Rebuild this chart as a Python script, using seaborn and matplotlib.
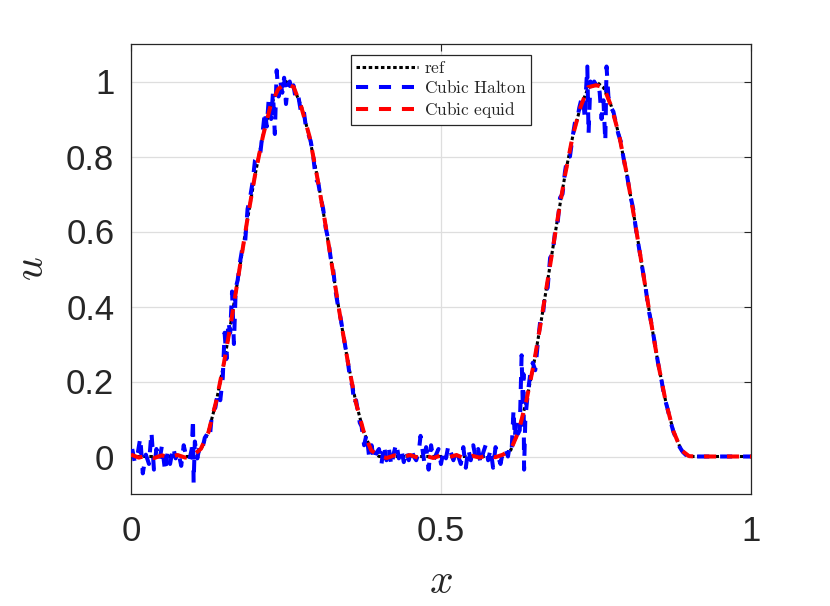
import numpy as np
import seaborn as sns
import matplotlib
matplotlib.use("Agg")
import matplotlib.pyplot as plt

# equidistant grid used by the reference and the "equid" solution
GRID_X = np.linspace(0, 1, 81)

REF_U = [0, 0, 0, 0, 0, 0, 0, 0, 0,
         0.017, 0.067, 0.146, 0.25, 0.371, 0.5, 0.629, 0.75, 0.854, 0.933, 0.983,
         1.0,
         0.983, 0.933, 0.854, 0.75, 0.629, 0.5, 0.371, 0.25, 0.146, 0.067, 0.017,
         0, 0, 0, 0, 0, 0, 0, 0, 0, 0, 0, 0, 0, 0, 0, 0, 0,
         0.017, 0.067, 0.146, 0.25, 0.371, 0.5, 0.629, 0.75, 0.854, 0.933, 0.983,
         1.0,
         0.983, 0.933, 0.854, 0.75, 0.629, 0.5, 0.371, 0.25, 0.146, 0.067, 0.017,
         0, 0, 0, 0, 0, 0, 0, 0, 0]

EQUID_U = [0.005, -0.003, 0.002, -0.004, 0.003, -0.002, 0.004, -0.003, 0.003,
           0.02, 0.065, 0.148, 0.25, 0.37, 0.50, 0.63, 0.75, 0.852, 0.935, 0.98,
           0.995,
           0.985, 0.93, 0.856, 0.748, 0.63, 0.5, 0.372, 0.25, 0.145, 0.068, 0.016,
           0.002, -0.004, 0.003, -0.002, 0.004, -0.003, 0.002, -0.004, 0.003,
           -0.002, 0.004, -0.005, 0.002, -0.003, 0.004, -0.002, 0.005,
           0.018, 0.066, 0.147, 0.25, 0.372, 0.5, 0.628, 0.75, 0.855, 0.932, 0.985,
           0.99,
           0.985, 0.932, 0.855, 0.75, 0.629, 0.5, 0.371, 0.25, 0.146, 0.067, 0.017,
           0.001, 0, 0, 0, 0, 0, 0, 0, 0]

# scattered (Halton) nodes, sorted by x
HALTON_X = [0.002, 0.006, 0.011, 0.015, 0.019, 0.024, 0.029, 0.033, 0.037, 0.041,
            0.046, 0.050, 0.055, 0.059, 0.063, 0.068, 0.072, 0.076, 0.081, 0.085,
            0.089, 0.094, 0.098, 0.100, 0.101, 0.103, 0.107, 0.111, 0.115,
            0.119, 0.123, 0.127, 0.131, 0.136, 0.140, 0.144, 0.148, 0.151, 0.154,
            0.157, 0.160, 0.163, 0.166, 0.169, 0.172, 0.176, 0.180, 0.184, 0.188,
            0.192, 0.196, 0.200, 0.204, 0.208,
            0.212, 0.216, 0.219, 0.222, 0.226, 0.229, 0.232, 0.235, 0.238, 0.241,
            0.244, 0.247, 0.250, 0.253, 0.256, 0.259, 0.262, 0.266, 0.270, 0.274,
            0.278, 0.282, 0.286, 0.290, 0.294, 0.298, 0.302, 0.306, 0.310, 0.314,
            0.318, 0.322, 0.326, 0.330, 0.334, 0.338, 0.342, 0.346, 0.350, 0.354,
            0.357, 0.360, 0.363, 0.366, 0.369, 0.372, 0.376, 0.380, 0.384, 0.388,
            0.392, 0.396, 0.400,
            0.404, 0.408, 0.412, 0.416, 0.420, 0.424, 0.428, 0.432, 0.436, 0.440,
            0.444, 0.448, 0.452, 0.456, 0.460, 0.464, 0.467, 0.470, 0.473, 0.476,
            0.480, 0.484, 0.488, 0.492, 0.496, 0.500, 0.504, 0.508, 0.512, 0.516,
            0.520, 0.524, 0.528, 0.532, 0.536, 0.540, 0.544, 0.548, 0.552, 0.556,
            0.560, 0.564, 0.568, 0.572, 0.576, 0.580, 0.584, 0.588, 0.592, 0.596,
            0.600,
            0.604, 0.608, 0.611, 0.614, 0.617, 0.619, 0.621, 0.624, 0.627, 0.630,
            0.631, 0.632, 0.633, 0.634, 0.636, 0.640, 0.644, 0.648, 0.652,
            0.656, 0.660, 0.664, 0.668, 0.672, 0.676, 0.680, 0.684, 0.688, 0.692,
            0.696, 0.700, 0.704, 0.708, 0.712, 0.716, 0.720,
            0.723, 0.726, 0.729, 0.732, 0.734, 0.736, 0.738, 0.741, 0.744, 0.747,
            0.750, 0.753, 0.756, 0.759, 0.762, 0.765, 0.767, 0.770, 0.774, 0.778,
            0.782, 0.786, 0.790, 0.795, 0.800, 0.805, 0.810, 0.815, 0.820, 0.825,
            0.830, 0.835, 0.840, 0.845, 0.850, 0.855, 0.860, 0.865, 0.870, 0.875,
            0.880, 0.885, 0.890, 0.895, 0.900, 0.920, 0.950, 0.980, 1.000]

HALTON_U = [0.02, -0.015, 0.01, 0.05, -0.045, 0.005, -0.02, 0.065, -0.035, 0.02,
            -0.01, 0.03, -0.04, 0.01, -0.02, 0.025, -0.005, 0.015, -0.025, 0.03,
            0.0, -0.01, 0.02, 0.10, -0.07, 0.04, -0.005, 0.03, 0.02,
            0.05, 0.06, 0.05, 0.12, 0.13, 0.17, 0.15, 0.21, 0.33, 0.26,
            0.36, 0.33, 0.44, 0.30, 0.45, 0.47, 0.52, 0.56, 0.57, 0.66,
            0.69, 0.73, 0.79, 0.80, 0.80,
            0.86, 0.92, 0.88, 0.95, 0.90, 0.97, 0.86, 1.03, 0.96, 1.0,
            0.97, 1.01, 0.94, 0.99, 1.0, 0.97, 0.99, 0.95, 0.96, 0.92,
            0.93, 0.88, 0.86, 0.84, 0.80, 0.74, 0.73, 0.69, 0.66, 0.61,
            0.58, 0.53, 0.50, 0.44, 0.40, 0.37, 0.33, 0.29, 0.25, 0.20,
            0.19, 0.14, 0.15, 0.12, 0.09, 0.08, 0.03, 0.06, 0.0, 0.03,
            -0.01, 0.01, 0.02,
            -0.02, 0.03, -0.01, 0.02, -0.025, 0.01, 0.035, -0.005, 0.02, -0.015,
            0.015, -0.01, 0.02, 0.0, -0.01, 0.01, 0.055, 0.02, -0.015, 0.025,
            -0.035, 0.03, -0.01, 0.005, 0.02, -0.02, 0.015, -0.005, 0.03, 0.01,
            -0.01, 0.015, 0.0, -0.02, 0.025, -0.03, 0.02, -0.01, 0.03, -0.005,
            0.02, -0.02, 0.01, 0.03, -0.01, 0.02, -0.03, 0.025, 0.0, -0.02,
            0.015,
            0.02, 0.0, 0.03, 0.02, 0.125, 0.05, 0.09, 0.06, 0.07, 0.27,
            0.20, 0.13, 0.22, -0.035, 0.10, 0.17, 0.22, 0.25, 0.23,
            0.30, 0.36, 0.37, 0.44, 0.45, 0.53, 0.54, 0.60, 0.62, 0.69,
            0.70, 0.76, 0.80, 0.80, 0.85, 0.89, 0.90,
            0.93, 0.95, 0.96, 0.90, 0.98, 1.04, 0.86, 1.0, 0.97, 1.0,
            0.99, 1.0, 0.97, 0.90, 0.95, 0.84, 1.04, 0.96, 0.93, 0.92,
            0.89, 0.86, 0.84, 0.79, 0.75, 0.70, 0.66, 0.60, 0.55, 0.50,
            0.45, 0.39, 0.35, 0.30, 0.25, 0.21, 0.16, 0.13, 0.095, 0.065,
            0.045, 0.025, 0.012, 0.004, 0.0, 0.0, 0.0, 0.0, 0.0]

X_TICKS = [0, 0.5, 1]
X_TICKLABELS = ["0", "0.5", "1"]
Y_TICKS = [0, 0.2, 0.4, 0.6, 0.8, 1]
Y_TICKLABELS = ["0", "0.2", "0.4", "0.6", "0.8", "1"]

DARK = "#262626"


def main():
    sns.set_theme(style="white")
    plt.rcParams["font.family"] = ["Liberation Sans", "DejaVu Sans"]
    plt.rcParams["mathtext.fontset"] = "cm"

    fig, ax = plt.subplots(figsize=(8.3, 6.06), dpi=100)
    fig.subplots_adjust(left=131 / 830, right=751 / 830,
                        bottom=(606 - 494) / 606, top=(606 - 44) / 606)

    sns.lineplot(x=GRID_X, y=REF_U, ax=ax, color="black", linewidth=2.2,
                 estimator=None, sort=False, label=r"$\mathrm{ref}$", zorder=2)
    ax.lines[-1].set_dashes([1.15, 0.85])
    sns.lineplot(x=HALTON_X, y=HALTON_U, ax=ax, color="#0000ff", linewidth=2.9,
                 estimator=None, sort=False, label=r"$\mathrm{Cubic\ Halton}$",
                 zorder=3)
    ax.lines[-1].set_dashes([3.0, 2.7])
    sns.lineplot(x=GRID_X, y=EQUID_U, ax=ax, color="#ff0000", linewidth=2.9,
                 estimator=None, sort=False, label=r"$\mathrm{Cubic\ equid}$",
                 zorder=4)
    ax.lines[-1].set_dashes([3.0, 2.7])

    ax.set_xlim(0, 1)
    ax.set_ylim(-0.1, 1.1)
    ax.set_xticks(X_TICKS)
    ax.set_xticklabels(X_TICKLABELS)
    ax.set_yticks(Y_TICKS)
    ax.set_yticklabels(Y_TICKLABELS)
    ax.tick_params(axis="both", direction="in", top=True, right=True,
                   length=5, width=0.8, color=DARK, labelsize=25,
                   labelcolor=DARK)
    ax.tick_params(axis="y", pad=12)
    ax.tick_params(axis="x", pad=15)
    ax.grid(True, color="#dedede", linewidth=0.9)
    for sp in ax.spines.values():
        sp.set_color(DARK)
        sp.set_linewidth(0.9)

    ax.set_xlabel(r"$x$", fontsize=30, color=DARK, labelpad=10)
    ax.set_ylabel(r"$u$", fontsize=30, color=DARK, labelpad=10, rotation=90)

    leg = ax.legend(loc="upper center", bbox_to_anchor=(0.5, 0.976),
                    borderaxespad=0, fontsize=12.5, fancybox=False,
                    framealpha=1, edgecolor=DARK, handlelength=3.6,
                    handletextpad=0.3, borderpad=0.3, labelspacing=0.2)
    leg.get_frame().set_linewidth(0.9)

    fig.savefig("out.png", dpi=100)


if __name__ == "__main__":
    main()
